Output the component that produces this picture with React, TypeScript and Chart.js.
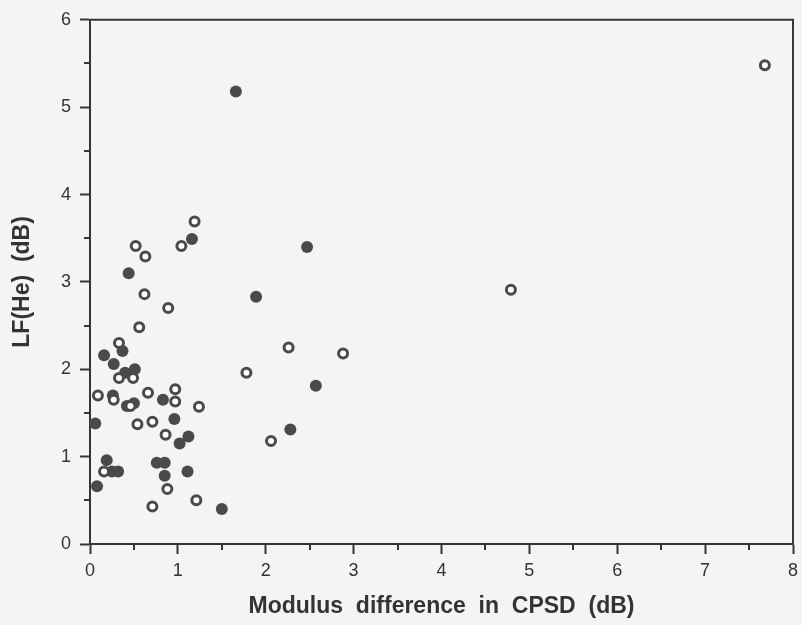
import React, { useEffect, useRef } from "react";
import { Chart, registerables } from "chart.js";

Chart.register(...registerables);

// Open circles (drawn on top)
const openX = [7.68, 1.19, 1.04, 0.52, 0.63, 0.62, 0.89, 0.56, 0.33, 0.33, 0.49, 2.26, 4.79, 2.88, 1.78, 0.09, 0.27, 0.66, 0.97, 0.97, 0.46, 1.24, 0.54, 0.71, 0.86, 2.06, 0.16, 0.88, 0.71, 1.21];
const openY = [5.48, 3.69, 3.41, 3.41, 3.29, 2.86, 2.70, 2.48, 2.30, 1.90, 1.90, 2.25, 2.91, 2.18, 1.96, 1.70, 1.65, 1.73, 1.77, 1.63, 1.58, 1.57, 1.37, 1.40, 1.25, 1.18, 0.83, 0.63, 0.43, 0.50];

// Filled circles
const filledX = [1.66, 1.16, 0.44, 2.47, 1.89, 0.37, 0.16, 0.27, 0.40, 0.51, 0.26, 2.57, 0.83, 0.42, 0.50, 0.06, 0.96, 1.02, 1.12, 2.28, 0.19, 0.25, 0.32, 0.76, 0.85, 0.85, 1.11, 0.08, 1.50];
const filledY = [5.18, 3.49, 3.10, 3.40, 2.83, 2.21, 2.16, 2.06, 1.96, 2.00, 1.70, 1.81, 1.65, 1.58, 1.61, 1.38, 1.43, 1.15, 1.23, 1.31, 0.96, 0.83, 0.83, 0.93, 0.93, 0.78, 0.83, 0.66, 0.40];

const xMin = 0, xMax = 8, xStep = 1;
const yMin = 0, yMax = 6, yStep = 1;
const xTitle = "Modulus  difference  in  CPSD  (dB)";
const yTitle = "LF(He)  (dB)";

const BG = "#f4f4f2";
const AXIS = "#363636";
const MARK = "#4a4a4a";
const TEXT = "#333333";
const FONT = "'Liberation Sans', Arial, sans-serif";

const framePlugin = {
  id: "frame",
  afterDraw(chart: any) {
    const { ctx, chartArea: a, scales } = chart;
    ctx.save();
    ctx.strokeStyle = AXIS;
    ctx.lineWidth = 2;
    ctx.beginPath();
    ctx.moveTo(a.left, a.top);
    ctx.lineTo(a.right, a.top);
    ctx.lineTo(a.right, a.bottom);
    ctx.stroke();
    ctx.beginPath();
    for (let v = xMin + xStep / 2; v < xMax; v += xStep) {
      const px = Math.round(scales.x.getPixelForValue(v));
      ctx.moveTo(px, a.bottom);
      ctx.lineTo(px, a.bottom + 6);
    }
    for (let v = yMin + yStep / 2; v < yMax; v += yStep) {
      const py = Math.round(scales.y.getPixelForValue(v));
      ctx.moveTo(a.left, py);
      ctx.lineTo(a.left - 6, py);
    }
    ctx.stroke();
    ctx.restore();
  },
};

export default function App() {
  const ref = useRef<HTMLCanvasElement>(null);

  useEffect(() => {
    if (!ref.current) return;
    const chart = new Chart(ref.current, {
      type: "scatter",
      data: {
        datasets: [
          {
            label: "open",
            data: openX.map((x, i) => ({ x, y: openY[i] })),
            pointRadius: 4.5,
            pointBorderWidth: 3,
            pointBorderColor: MARK,
            pointBackgroundColor: "#ffffff",
            pointHoverRadius: 4.5,
            clip: false,
          } as any,
          {
            label: "filled",
            data: filledX.map((x, i) => ({ x, y: filledY[i] })),
            pointRadius: 6,
            pointBorderWidth: 0,
            pointBackgroundColor: MARK,
            pointBorderColor: MARK,
            pointHoverRadius: 6,
            clip: false,
          } as any,
        ],
      },
      options: {
        animation: false,
        responsive: false,
        events: [],
        layout: { padding: { left: 0, right: 9, top: 18, bottom: 0 } },
        plugins: {
          legend: { display: false },
          tooltip: { enabled: false },
        },
        scales: {
          x: {
            type: "linear",
            min: xMin,
            max: xMax,
            afterFit: (s: any) => {
              s.height = 81;
              s.paddingRight = 0;
              s.paddingLeft = 0;
            },
            ticks: {
              stepSize: xStep,
              color: TEXT,
              padding: 6,
              font: { family: FONT, size: 18 },
            },
            grid: {
              display: true,
              drawOnChartArea: false,
              drawTicks: true,
              tickLength: 10,
              tickWidth: 2,
              tickColor: AXIS,
            },
            border: { display: true, color: AXIS, width: 2 },
            title: {
              display: true,
              text: xTitle,
              color: TEXT,
              font: { family: FONT, size: 23, weight: "bold" },
              padding: { top: 0, bottom: 5 },
            },
          },
          y: {
            type: "linear",
            min: yMin,
            max: yMax,
            afterFit: (s: any) => {
              s.width = 90;
            },
            ticks: {
              stepSize: yStep,
              color: TEXT,
              padding: 9,
              font: { family: FONT, size: 18 },
            },
            grid: {
              display: true,
              drawOnChartArea: false,
              drawTicks: true,
              tickLength: 10,
              tickWidth: 2,
              tickColor: AXIS,
            },
            border: { display: true, color: AXIS, width: 2 },
            title: {
              display: true,
              text: yTitle,
              color: TEXT,
              font: { family: FONT, size: 23, weight: "bold" },
              padding: { top: 9, bottom: 0 },
            },
          },
        },
      } as any,
      plugins: [framePlugin],
    });
    return () => chart.destroy();
  }, []);

  return (
    <div style={{ position: "fixed", left: 0, top: 0, width: 802, height: 625, background: BG }}>
      <canvas ref={ref} width={802} height={625} style={{ display: "block", width: 802, height: 625 }} />
    </div>
  );
}
